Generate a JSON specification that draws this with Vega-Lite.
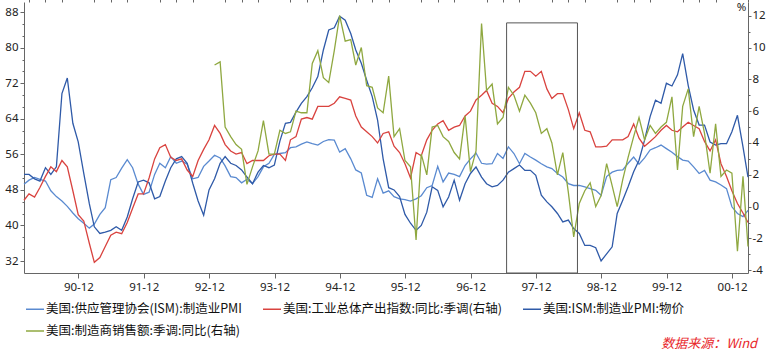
{
"$schema": "https://vega.github.io/schema/vega-lite/v6.json",
"width": 724, "height": 271,
"autosize": {"type": "none"},
"padding": {"left": 24, "top": 2, "right": 20, "bottom": 81},
"background": "white",
"title": {"text": "数据来源：Wind", "orient": "bottom", "anchor": "end", "color": "#e8262a", "fontStyle": "italic", "font": "Noto Sans CJK SC", "fontSize": 13, "fontWeight": "normal", "offset": 0, "dx": -8},
"datasets": {
"m": [
{"d":"1990-02","a":49.3,"b":0.4,"c":51.5},{"d":"1990-03","a":50.2,"b":0.8,"c":51.5},{"d":"1990-04","a":50.8,"b":0.6,"c":50.5},{"d":"1990-05","a":50.4,"b":1.2,"c":50.0},{"d":"1990-06","a":50.0,"b":1.9,"c":53.0},{"d":"1990-07","a":47.8,"b":2.5,"c":51.5},{"d":"1990-08","a":46.5,"b":2.2,"c":53.2},{"d":"1990-09","a":45.5,"b":2.9,"c":69.7},{"d":"1990-10","a":44.3,"b":2.5,"c":73.2},{"d":"1990-11","a":42.8,"b":1.0,"c":63.0},{"d":"1990-12","a":41.5,"b":-0.5,"c":58.8},
{"d":"1991-01","a":40.5,"b":-0.9,"c":51.7},{"d":"1991-02","a":39.4,"b":-2.3,"c":44.9},{"d":"1991-03","a":40.3,"b":-3.5,"c":39.7},{"d":"1991-04","a":42.5,"b":-3.2,"c":38.2},{"d":"1991-05","a":44.0,"b":-2.5,"c":38.5},{"d":"1991-06","a":50.3,"b":-1.8,"c":38.9},{"d":"1991-07","a":50.8,"b":-1.6,"c":39.7},{"d":"1991-08","a":52.9,"b":-1.7,"c":38.9},{"d":"1991-09","a":54.8,"b":-1.0,"c":41.9},{"d":"1991-10","a":53.0,"b":-0.1,"c":46.0},{"d":"1991-11","a":49.3,"b":0.8,"c":49.8},{"d":"1991-12","a":47.0,"b":0.8,"c":50.2},
{"d":"1992-01","a":47.5,"b":1.8,"c":49.6},{"d":"1992-02","a":51.5,"b":3.0,"c":46.0},{"d":"1992-03","a":54.0,"b":3.7,"c":46.5},{"d":"1992-04","a":53.0,"b":3.9,"c":50.0},{"d":"1992-05","a":55.5,"b":3.1,"c":53.0},{"d":"1992-06","a":54.0,"b":2.9,"c":55.0},{"d":"1992-07","a":54.5,"b":3.0,"c":55.5},{"d":"1992-08","a":53.8,"b":2.3,"c":54.0},{"d":"1992-09","a":50.5,"b":1.9,"c":49.5},{"d":"1992-10","a":50.8,"b":2.9,"c":45.5},{"d":"1992-11","a":53.3,"b":3.6,"c":42.3},{"d":"1992-12","a":54.5,"b":4.2,"c":48.0},
{"d":"1993-01","a":55.8,"b":5.1,"c":50.5,"e":8.9},{"d":"1993-02","a":55.2,"b":4.6,"c":54.0,"e":9.1},{"d":"1993-03","a":53.4,"b":3.9,"c":55.5,"e":5.0},{"d":"1993-04","a":51.0,"b":3.5,"c":54.0,"e":4.4},{"d":"1993-05","a":50.8,"b":3.3,"c":53.5,"e":3.9},{"d":"1993-06","a":49.6,"b":3.4,"c":52.5,"e":3.6},{"d":"1993-07","a":50.4,"b":2.7,"c":50.9,"e":1.4},{"d":"1993-08","a":49.4,"b":2.9,"c":49.4,"e":2.5},{"d":"1993-09","a":51.0,"b":2.9,"c":52.0,"e":3.5},{"d":"1993-10","a":53.2,"b":2.9,"c":53.5,"e":5.4},{"d":"1993-11","a":54.0,"b":3.2,"c":53.0,"e":3.3},{"d":"1993-12","a":56.0,"b":3.3,"c":53.6,"e":3.3},
{"d":"1994-01","a":56.2,"b":3.3,"c":59.0,"e":4.8},{"d":"1994-02","a":56.4,"b":2.9,"c":63.0,"e":4.6},{"d":"1994-03","a":57.5,"b":4.2,"c":63.2,"e":4.7},{"d":"1994-04","a":57.7,"b":4.4,"c":65.5,"e":6.0},{"d":"1994-05","a":58.3,"b":5.5,"c":67.5,"e":5.9},{"d":"1994-06","a":58.8,"b":5.6,"c":69.0,"e":5.9},{"d":"1994-07","a":58.4,"b":5.5,"c":71.0,"e":9.0},{"d":"1994-08","a":58.1,"b":6.3,"c":73.5,"e":9.8},{"d":"1994-09","a":58.9,"b":6.3,"c":79.5,"e":8.1},{"d":"1994-10","a":59.3,"b":6.3,"c":84.0,"e":7.8},{"d":"1994-11","a":59.2,"b":6.5,"c":84.5,"e":9.8},{"d":"1994-12","a":56.5,"b":6.9,"c":87.1,"e":12.0},
{"d":"1995-01","a":57.3,"b":6.8,"c":86.2,"e":10.4},{"d":"1995-02","a":55.0,"b":6.7,"c":83.2,"e":10.5},{"d":"1995-03","a":52.5,"b":5.7,"c":79.5,"e":8.9},{"d":"1995-04","a":51.8,"b":5.0,"c":76.5,"e":10.0},{"d":"1995-05","a":46.8,"b":4.7,"c":72.7,"e":7.6},{"d":"1995-06","a":46.3,"b":4.4,"c":69.0,"e":7.5},{"d":"1995-07","a":50.5,"b":4.0,"c":63.7,"e":6.2},{"d":"1995-08","a":47.3,"b":4.6,"c":55.0,"e":5.9},{"d":"1995-09","a":47.8,"b":4.7,"c":48.5,"e":8.2},{"d":"1995-10","a":46.5,"b":3.8,"c":48.0,"e":4.4},{"d":"1995-11","a":46.0,"b":3.4,"c":46.5,"e":4.9},{"d":"1995-12","a":45.8,"b":2.7,"c":42.5,"e":2.9},
{"d":"1996-01","a":45.5,"b":1.8,"c":40.5,"e":2.5},{"d":"1996-02","a":46.0,"b":3.4,"c":38.9,"e":-2.1},{"d":"1996-03","a":46.7,"b":3.2,"c":40.0,"e":3.3},{"d":"1996-04","a":48.5,"b":4.2,"c":43.0,"e":2.0},{"d":"1996-05","a":49.0,"b":4.8,"c":48.7,"e":5.0},{"d":"1996-06","a":53.3,"b":5.2,"c":47.9,"e":5.1},{"d":"1996-07","a":49.8,"b":5.4,"c":44.2,"e":4.4},{"d":"1996-08","a":51.8,"b":4.8,"c":46.4,"e":4.1},{"d":"1996-09","a":51.5,"b":5.0,"c":50.2,"e":3.4},{"d":"1996-10","a":51.0,"b":5.1,"c":45.7,"e":3.0},{"d":"1996-11","a":53.5,"b":5.7,"c":49.4,"e":5.7},{"d":"1996-12","a":55.0,"b":6.0,"c":51.7,"e":2.2},
{"d":"1997-01","a":56.3,"b":6.7,"c":53.2,"e":3.5},{"d":"1997-02","a":54.0,"b":7.0,"c":50.9,"e":11.5},{"d":"1997-03","a":53.8,"b":7.3,"c":49.4,"e":7.3},{"d":"1997-04","a":53.9,"b":6.5,"c":48.7,"e":7.7},{"d":"1997-05","a":56.2,"b":6.3,"c":49.0,"e":5.2},{"d":"1997-06","a":55.1,"b":5.9,"c":50.2,"e":5.6},{"d":"1997-07","a":57.7,"b":6.8,"c":52.0,"e":7.5},{"d":"1997-08","a":56.2,"b":7.2,"c":52.8,"e":7.0},{"d":"1997-09","a":53.9,"b":7.5,"c":53.6,"e":6.0},{"d":"1997-10","a":56.2,"b":8.5,"c":52.4,"e":7.0},{"d":"1997-11","a":55.4,"b":8.5,"c":52.4,"e":6.5},{"d":"1997-12","a":54.7,"b":8.2,"c":51.3,"e":5.9},
{"d":"1998-01","a":53.9,"b":8.5,"c":46.8,"e":4.6},{"d":"1998-02","a":53.2,"b":7.4,"c":45.3,"e":4.9},{"d":"1998-03","a":52.8,"b":6.8,"c":44.2,"e":4.0},{"d":"1998-04","a":51.7,"b":7.1,"c":42.7,"e":2.0},{"d":"1998-05","a":50.9,"b":7.1,"c":40.8,"e":3.4},{"d":"1998-06","a":49.4,"b":6.1,"c":41.2,"e":0.9},{"d":"1998-07","a":49.0,"b":4.9,"c":39.3,"e":-1.9},{"d":"1998-08","a":49.0,"b":5.9,"c":38.2,"e":0.2},{"d":"1998-09","a":48.7,"b":4.8,"c":35.5,"e":1.0},{"d":"1998-10","a":48.3,"b":4.7,"c":35.5,"e":1.5},{"d":"1998-11","a":47.9,"b":3.75,"c":35.0,"e":0.0},{"d":"1998-12","a":46.8,"b":3.75,"c":32.0,"e":0.7},
{"d":"1999-01","a":51.0,"b":3.8,"c":33.6,"e":2.7},{"d":"1999-02","a":52.0,"b":4.2,"c":35.2,"e":1.3},{"d":"1999-03","a":52.4,"b":4.2,"c":42.7,"e":0.0},{"d":"1999-04","a":52.5,"b":4.2,"c":45.7,"e":1.7},{"d":"1999-05","a":54.0,"b":4.4,"c":48.7,"e":3.1},{"d":"1999-06","a":55.4,"b":5.2,"c":52.1,"e":4.4},{"d":"1999-07","a":53.8,"b":4.3,"c":54.7,"e":5.6},{"d":"1999-08","a":55.2,"b":3.8,"c":59.2,"e":4.2},{"d":"1999-09","a":57.0,"b":4.1,"c":64.5,"e":5.1},{"d":"1999-10","a":57.5,"b":4.4,"c":68.2,"e":4.6},{"d":"1999-11","a":58.1,"b":4.8,"c":67.5,"e":5.0},{"d":"1999-12","a":57.3,"b":5.1,"c":72.0,"e":5.3},
{"d":"2000-01","a":56.5,"b":4.8,"c":71.4,"e":6.9},{"d":"2000-02","a":55.5,"b":4.7,"c":73.9,"e":2.3},{"d":"2000-03","a":54.7,"b":5.0,"c":78.7,"e":6.3},{"d":"2000-04","a":54.5,"b":5.3,"c":71.5,"e":7.4},{"d":"2000-05","a":53.2,"b":5.1,"c":66.0,"e":4.4},{"d":"2000-06","a":51.7,"b":4.9,"c":62.6,"e":6.3},{"d":"2000-07","a":52.4,"b":4.1,"c":62.6,"e":4.6},{"d":"2000-08","a":50.2,"b":3.5,"c":58.8,"e":2.1},{"d":"2000-09","a":49.8,"b":4.2,"c":58.1,"e":5.2},{"d":"2000-10","a":49.1,"b":2.7,"c":58.4,"e":1.9},{"d":"2000-11","a":48.3,"b":1.9,"c":58.4,"e":2.3},{"d":"2000-12","a":44.2,"b":1.0,"c":61.1,"e":2.1},
{"d":"2001-01","a":42.7,"b":0.2,"c":64.8,"e":-2.8},{"d":"2001-02","a":42.0,"b":-0.4,"c":57.7,"e":1.9},{"d":"2001-03","a":43.4,"b":-1.0,"c":50.9,"e":-2.5}
],
"box": [{"from": "1997-06-21", "to": "1998-07-22", "hi": 85.6, "lo": 29.3}]
},
"layer": [
{
"data": {"name": "m"},
"transform": [{"fold": ["a", "c"], "as": ["s", "v"]}, {"filter": "isValid(datum.v)"}],
"mark": {"type": "line", "strokeWidth": 1.3},
"encoding": {
"x": {"field": "d", "type": "temporal", "title": null,
"scale": {"type": "utc", "domain": {"expr": "[utc(1990,1,1), utc(2001,2,1)]"}},
"axis": {"labelExpr": "utcFormat(datum.value, '%y-%m')", "labelPadding": 3, "labelOverlap": false, "tickSize": 5, "grid": false,
"values": {"expr": "[utc(1990,11,2),utc(1991,11,2),utc(1992,11,2),utc(1993,11,2),utc(1994,11,2),utc(1995,11,2),utc(1996,11,2),utc(1997,11,2),utc(1998,11,2),utc(1999,11,2),utc(2000,11,2)]"}}},
"y": {"field": "v", "type": "quantitative", "title": null,
"scale": {"domain": [29.3, 90.3], "nice": false, "zero": false},
"axis": {"orient": "left", "grid": false, "format": ".0f", "labelPadding": 2,
"values": [32, 34.6667, 37.3333, 40, 42.6667, 45.3333, 48, 50.6667, 53.3333, 56, 58.6667, 61.3333, 64, 66.6667, 69.3333, 72, 74.6667, 77.3333, 80, 82.6667, 85.3333, 88],
"labelExpr": "abs(datum.value % 8) < 0.01 ? datum.label : ''",
"tickSize": {"condition": {"test": "abs(datum.value % 8) < 0.01", "value": 4}, "value": 2}}},
"color": {"field": "s", "type": "nominal",
"scale": {"domain": ["a", "b", "c", "e"], "range": ["#5a8ad0", "#d9433f", "#2f5aa8", "#8fa840"]},
"legend": {"orient": "none", "legendX": 1, "legendY": 297, "columns": 3, "direction": "horizontal", "title": null,
"symbolType": "stroke", "symbolSize": 324, "symbolStrokeWidth": 1.5, "labelOffset": 1, "columnPadding": 18, "rowPadding": 5, "padding": 0,
"labelFont": "Noto Sans CJK SC", "labelFontSize": 12.5, "labelColor": "#111", "labelLimit": 400,
"labelExpr": "datum.label == 'a' ? '美国:供应管理协会(ISM):制造业PMI' : datum.label == 'b' ? '美国:工业总体产出指数:同比:季调(右轴)' : datum.label == 'c' ? '美国:ISM:制造业PMI:物价' : '美国:制造商销售额:季调:同比(右轴)'"}}
}
},
{
"data": {"name": "m"},
"transform": [{"fold": ["b", "e"], "as": ["s", "v"]}, {"filter": "isValid(datum.v)"}],
"mark": {"type": "line", "strokeWidth": 1.3},
"encoding": {
"x": {"field": "d", "type": "temporal", "title": null,
"axis": {"labels": false, "domain": false, "grid": false, "tickSize": 3,
"values": {"expr": "[utc(1990,2,1),utc(1990,5,1),utc(1990,8,1),utc(1991,2,1),utc(1991,5,1),utc(1991,8,1),utc(1992,2,1),utc(1992,5,1),utc(1992,8,1),utc(1993,2,1),utc(1993,5,1),utc(1993,8,1),utc(1994,2,1),utc(1994,5,1),utc(1994,8,1),utc(1995,2,1),utc(1995,5,1),utc(1995,8,1),utc(1996,2,1),utc(1996,5,1),utc(1996,8,1),utc(1997,2,1),utc(1997,5,1),utc(1997,8,1),utc(1998,2,1),utc(1998,5,1),utc(1998,8,1),utc(1999,2,1),utc(1999,5,1),utc(1999,8,1),utc(2000,2,1),utc(2000,5,1),utc(2000,8,1),utc(2001,2,1)]"}}},
"y": {"field": "v", "type": "quantitative", "title": "%",
"scale": {"domain": [-4.17, 12.86], "nice": false, "zero": false},
"axis": {"orient": "right", "grid": false, "format": "d", "labelPadding": 1,
"values": [-4, -3, -2, -1, 0, 1, 2, 3, 4, 5, 6, 7, 8, 9, 10, 11, 12],
"labelExpr": "datum.value % 2 == 0 ? replace(datum.label, '−', '-') : ''",
"tickSize": {"condition": {"test": "datum.value % 2 == 0", "value": 3}, "value": 2},
"titleAngle": 0, "titleX": -7, "titleY": -1, "titleBaseline": "top", "titleAlign": "center", "titleFontWeight": "normal", "titleFontSize": 11.5, "titleFont": "Noto Sans", "titleColor": "#222"}},
"color": {"field": "s", "type": "nominal"}
}
},
{
"data": {"name": "box"},
"mark": {"type": "rect", "fill": "white", "fillOpacity": 0, "stroke": "#555", "strokeWidth": 1},
"encoding": {
"x": {"field": "from", "type": "temporal", "axis": null},
"x2": {"field": "to"},
"y": {"field": "hi", "type": "quantitative", "scale": {"domain": [29.3, 90.3], "nice": false, "zero": false}, "axis": null},
"y2": {"field": "lo"}
}
}
],
"resolve": {"scale": {"y": "independent"}, "axis": {"x": "independent"}},
"config": {
"view": {"stroke": null},
"axis": {"labelFont": "Noto Sans", "labelFontSize": 11.5, "labelColor": "#222", "domainColor": "#666", "tickColor": "#666"}
}
}
